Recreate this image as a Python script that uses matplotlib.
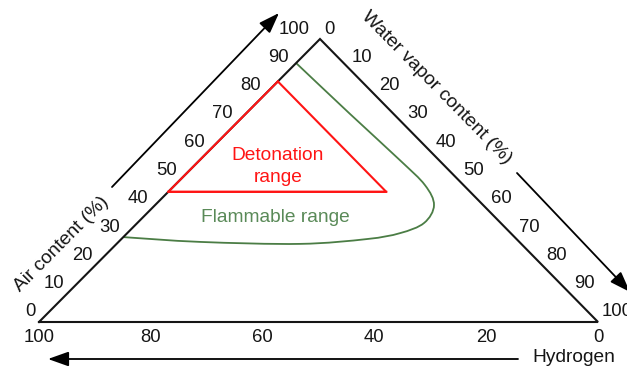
import numpy as np
import matplotlib
matplotlib.use("Agg")
import matplotlib.pyplot as plt
from matplotlib.path import Path
from matplotlib.patches import PathPatch

plt.rcParams['font.family'] = ['Liberation Sans', 'DejaVu Sans']

# Scale values (%) along each side of the diagram
air_ticks = [0, 10, 20, 30, 40, 50, 60, 70, 80, 90, 100]
water_ticks = [0, 10, 20, 30, 40, 50, 60, 70, 80, 90, 100]
hydrogen_ticks = [100, 80, 60, 40, 20, 0]

# Detonation range corners (hydrogen %, air %); water is the remainder
detonation_h = [15, 54, 15]
detonation_a = [85, 46, 46]

# Flammable range boundary (hydrogen %, air %)
flammable_h = [8.5, 7.8, 7.0, 6.9, 8.8, 13.7, 19.8, 26.8, 39.6, 57.1, 70.0]
flammable_a = [91.5, 73.5, 57.2, 48.4, 41.3, 35.0, 31.4, 29.3, 27.6, 28.3, 30.0]

# Corner positions of the diagram in canvas units (pixels, y downward)
H_CORNER = np.array([39.0, 322.0])   # 100 % hydrogen
A_CORNER = np.array([320.0, 39.0])   # 100 % air
W_CORNER = np.array([598.0, 322.0])  # 100 % water vapour


def tern(h, a):
    """Map (hydrogen %, air %) to canvas coordinates."""
    h = np.asarray(h, float) / 100.0
    a = np.asarray(a, float) / 100.0
    w = 1.0 - h - a
    x = h * H_CORNER[0] + a * A_CORNER[0] + w * W_CORNER[0]
    y = h * H_CORNER[1] + a * A_CORNER[1] + w * W_CORNER[1]
    return x, y


def smooth_path(xs, ys):
    """Catmull-Rom curve through the points, expressed as cubic Beziers."""
    p = np.column_stack([xs, ys])
    ext = np.vstack([p[0], p, p[-1]])
    verts = [p[0]]
    codes = [Path.MOVETO]
    for i in range(1, len(ext) - 2):
        p0, p1, p2, p3 = ext[i - 1], ext[i], ext[i + 1], ext[i + 2]
        c1 = p1 + (p2 - p0) / 6.0
        c2 = p2 - (p3 - p1) / 6.0
        verts += [c1, c2, p2]
        codes += [Path.CURVE4] * 3
    return Path(verts, codes)


fig = plt.figure(figsize=(6.27, 3.69), dpi=100)
ax = fig.add_axes([0, 0, 1, 1])
ax.set_xlim(0, 627)
ax.set_ylim(369, 0)
ax.axis('off')

edge = '#151515'
red = '#ff1414'
green = '#4b7d45'
green_txt = '#5a8a58'
fs_num = 13.3
fs_txt = 13.8

# Triangle frame
fx, fy = tern([100, 0, 0, 100], [0, 100, 0, 0])
ax.plot(fx, fy, color=edge, lw=1.5, solid_joinstyle='miter')

# Flammable range
gx, gy = tern(flammable_h, flammable_a)
ax.add_patch(PathPatch(smooth_path(gx, gy), fill=False, edgecolor=green, lw=1.3))

# Detonation range
dx, dy = tern(detonation_h + detonation_h[:1], detonation_a + detonation_a[:1])
ax.plot(dx[:-1], dy[:-1], color=red, lw=1.5)
ax.plot(dx[1:], dy[1:], color=red, lw=1.5)

# Air scale on the left side
for v in air_ticks:
    x, y = tern(100 - v, v)
    dxo = -10 if v == 100 else -3
    ax.text(x + dxo, y - 10, str(v), ha='right', va='center', fontsize=fs_num, color=edge)

# Water vapour scale on the right side
for v in water_ticks:
    x, y = tern(0, 100 - v)
    ax.text(x + 4, y - 10, str(v), ha='left', va='center', fontsize=fs_num, color=edge)

# Hydrogen scale along the bottom
for v in hydrogen_ticks:
    x, y = tern(v, 0)
    ax.text(x, y + 15, str(v), ha='center', va='center', fontsize=fs_num, color=edge)

# Direction arrows
arrow = dict(arrowstyle='-|>,head_length=0.9,head_width=0.32', color='black',
             lw=1.3, mutation_scale=14, shrinkA=0, shrinkB=0)
ax.annotate('', xy=(279, 13), xytext=(112, 187), arrowprops=arrow)
ax.annotate('', xy=(630, 292), xytext=(517, 173), arrowprops=arrow,
            annotation_clip=False)
ax.annotate('', xy=(48, 359), xytext=(518, 359), arrowprops=arrow)

# Axis titles
ax.text(62, 244, 'Air content (%)', rotation=45.2, ha='center', va='center',
        fontsize=fs_txt, color=edge, rotation_mode='anchor')
ax.text(436, 88, 'Water vapor content (%)', rotation=-45.5, ha='center', va='center',
        fontsize=fs_txt, color=edge, rotation_mode='anchor')
ax.text(615, 358, 'Hydrogen', ha='right', va='center', fontsize=fs_txt, color=edge)

# Region labels
ax.text(278, 155, 'Detonation', ha='center', va='center', fontsize=fs_txt, color=red)
ax.text(278, 177, 'range', ha='center', va='center', fontsize=fs_txt, color=red)
ax.text(275, 217, 'Flammable range', ha='center', va='center', fontsize=fs_txt, color=green_txt)

fig.savefig('out.png', dpi=100)
